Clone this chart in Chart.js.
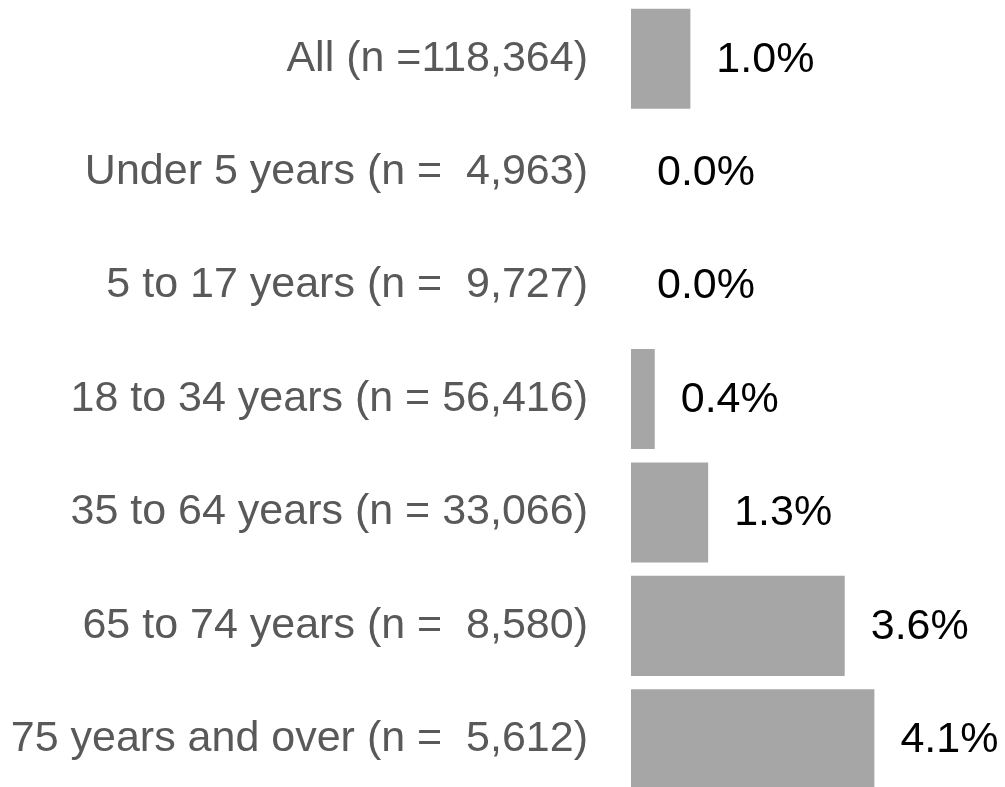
<!DOCTYPE html>
<html>
<head>
<meta charset="utf-8">
<script src="https://cdn.jsdelivr.net/npm/chart.js@4"></script>
<style>
  html, body { margin: 0; padding: 0; background: #fff; overflow: hidden; }
  #wrap { position: relative; width: 1005px; height: 796px; }
</style>
</head>
<body>
<div id="wrap"><canvas id="c"></canvas></div>
<script>
const categories = [
  "All (n =118,364)",
  "Under 5 years (n =  4,963)",
  "5 to 17 years (n =  9,727)",
  "18 to 34 years (n = 56,416)",
  "35 to 64 years (n = 33,066)",
  "65 to 74 years (n =  8,580)",
  "75 years and over (n =  5,612)"
];
const percentValues = [1.0, 0.0, 0.0, 0.4, 1.3, 3.6, 4.1];
const valueLabels = ["1.0%", "0.0%", "0.0%", "0.4%", "1.3%", "3.6%", "4.1%"];

const FONT = "'Liberation Sans', Arial, sans-serif";

const valueLabelPlugin = {
  id: 'valueLabels',
  afterDatasetsDraw(chart) {
    const ctx = chart.ctx;
    const meta = chart.getDatasetMeta(0);
    ctx.save();
    ctx.font = "43px " + FONT;
    ctx.fillStyle = "#000000";
    ctx.textAlign = "left";
    ctx.textBaseline = "middle";
    meta.data.forEach((bar, i) => {
      ctx.fillText(valueLabels[i], bar.x + 26, bar.y + 1);
    });
    ctx.restore();
  }
};

new Chart(document.getElementById('c'), {
  type: 'bar',
  data: {
    labels: categories,
    datasets: [{
      data: percentValues,
      backgroundColor: '#a6a6a6',
      borderWidth: 0,
      categoryPercentage: 1.0,
      barPercentage: 0.882
    }]
  },
  options: {
    indexAxis: 'y',
    responsive: true,
    maintainAspectRatio: false,
    animation: false,
    layout: { padding: { top: 2, right: 0, bottom: 0, left: 0 } },
    plugins: {
      legend: { display: false },
      tooltip: { enabled: false }
    },
    scales: {
      x: {
        display: false,
        min: 0,
        max: 6.3
      },
      y: {
        grid: { display: false, drawTicks: false },
        border: { display: false },
        ticks: {
          padding: 43,
          color: '#595959',
          font: { family: FONT, size: 43 }
        },
        afterFit(scale) {
          scale.width = 631;
          scale.paddingTop = 0;
          scale.paddingBottom = 0;
        }
      }
    }
  },
  plugins: [valueLabelPlugin]
});
</script>
</body>
</html>
